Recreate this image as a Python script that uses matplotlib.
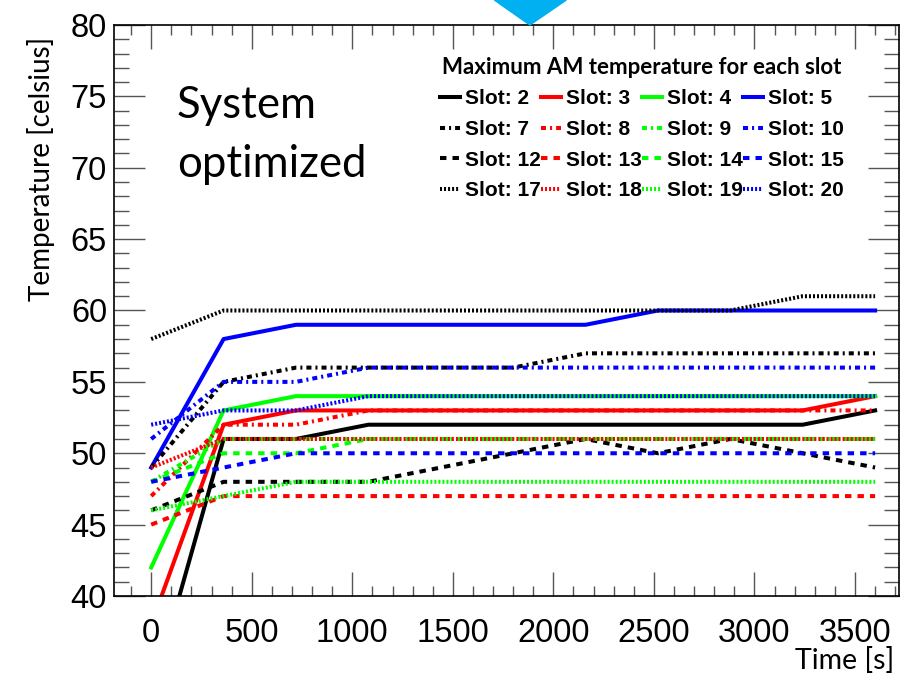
import matplotlib
matplotlib.use("Agg")
import matplotlib.pyplot as plt
from matplotlib.patches import Polygon
from matplotlib.ticker import MultipleLocator

# time points [s]
time_s = [0, 360, 720, 1080, 1440, 1800, 2160, 2520, 2880, 3240, 3600]

# maximum AM temperature per slot [celsius]
slot2 = [33, 51, 51, 52, 52, 52, 52, 52, 52, 52, 53]
slot3 = [38, 52, 53, 53, 53, 53, 53, 53, 53, 53, 54]
slot4 = [42, 53, 54, 54, 54, 54, 54, 54, 54, 54, 54]
slot5 = [49, 58, 59, 59, 59, 59, 59, 60, 60, 60, 60]
slot7 = [49, 55, 56, 56, 56, 56, 57, 57, 57, 57, 57]
slot8 = [47, 52, 52, 53, 53, 53, 53, 53, 53, 53, 53]
slot9 = [48, 51, 51, 51, 51, 51, 51, 51, 51, 51, 51]
slot10 = [51, 55, 55, 56, 56, 56, 56, 56, 56, 56, 56]
slot12 = [46, 48, 48, 48, 49, 50, 51, 50, 51, 50, 49]
slot13 = [45, 47, 47, 47, 47, 47, 47, 47, 47, 47, 47]
slot14 = [48, 50, 50, 51, 51, 51, 51, 51, 51, 51, 51]
slot15 = [48, 49, 50, 50, 50, 50, 50, 50, 50, 50, 50]
slot17 = [58, 60, 60, 60, 60, 60, 60, 60, 60, 61, 61]
slot18 = [49, 51, 51, 51, 51, 51, 51, 51, 51, 51, 51]
slot19 = [46, 47, 48, 48, 48, 48, 48, 48, 48, 48, 48]
slot20 = [52, 53, 53, 54, 54, 54, 54, 54, 54, 54, 54]

slots = [2, 3, 4, 5, 7, 8, 9, 10, 12, 13, 14, 15, 17, 18, 19, 20]
temps = [slot2, slot3, slot4, slot5, slot7, slot8, slot9, slot10,
         slot12, slot13, slot14, slot15, slot17, slot18, slot19, slot20]

# ROOT-like colours and line styles
colors = ['#000000', '#ff0000', '#00ff00', '#0000ff']
styles = ['solid',
          (0, (1.25, 1.0, 0.5, 1.0)),
          (0, (1.6, 1.5)),
          (0, (0.5, 0.5))]

fig = plt.figure(figsize=(9.12, 6.75), dpi=100)
ax = fig.add_axes([0.125, 0.117, 0.861, 0.846])

lines = []
for i, (s, y) in enumerate(zip(slots, temps)):
    ln, = ax.plot(time_s, y, color=colors[i % 4], linestyle=styles[i // 4],
                  lw=2.9, label='Slot: %d' % s)
    lines.append(ln)

ax.set_xlim(-185, 3720)
ax.set_ylim(40, 80)
ax.xaxis.set_major_locator(MultipleLocator(500))
ax.xaxis.set_minor_locator(MultipleLocator(100))
ax.yaxis.set_major_locator(MultipleLocator(5))
ax.yaxis.set_minor_locator(MultipleLocator(1))
ax.tick_params(axis='both', which='both', direction='in', top=True, right=True,
               width=1, color='#555555')
ax.tick_params(axis='x', which='major', length=17, pad=16)
ax.tick_params(axis='x', which='minor', length=7)
ax.tick_params(axis='y', which='major', length=22, pad=5)
ax.tick_params(axis='y', which='minor', length=11)
for lab in ax.get_xticklabels() + ax.get_yticklabels():
    lab.set_family('Liberation Sans')
    lab.set_fontsize(23.5)
for sp in ax.spines.values():
    sp.set_linewidth(1.2)

# legend filled row by row like the ROOT one
order = []
for c in range(4):
    for r in range(4):
        order.append(r * 4 + c)
leg = ax.legend([lines[k] for k in order], [lines[k].get_label() for k in order],
                ncol=4, loc='upper right', bbox_to_anchor=(0.94, 0.958),
                frameon=False, borderaxespad=0, handlelength=0.95,
                handletextpad=0.25, columnspacing=0.0, labelspacing=0.56,
                prop={'family': 'Liberation Sans', 'weight': 'bold', 'size': 15},
                title='Maximum AM temperature for each slot',
                title_fontproperties={'family': 'Lato', 'weight': 'bold', 'size': 16})
leg._legend_box.sep = 8

ax.text(0.08, 0.895, 'System\noptimized', transform=ax.transAxes, va='top',
        ha='left', family='Lato', fontsize=31.5, linespacing=1.55)

fig.text(0.045, 0.75, 'Temperature [celsius]', rotation=90, ha='center',
         va='center', family='Lato', fontsize=20)
fig.text(0.98, 0.002, 'Time [s]', ha='right', va='bottom', family='Lato',
         fontsize=20.5)

# blue arrow tip from the slide
fig.patches.append(Polygon([[0.542, 1.0], [0.621, 1.0], [0.581, 0.963]],
                           closed=True, transform=fig.transFigure,
                           color='#00b0f0', zorder=0))

fig.savefig('out.png', dpi=100)
